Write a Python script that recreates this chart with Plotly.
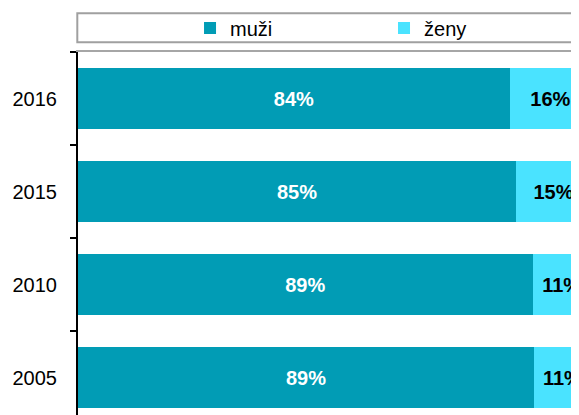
import plotly.graph_objects as go

# ── Data ──────────────────────────────────────────────────────────────────────
YEARS = ["2005", "2010", "2015", "2016"]
MUZI = [88.9, 88.6, 85.4, 84.2]
ZENY = [11.1, 11.4, 14.6, 15.8]

TEAL = "#019cb5"
CYAN = "#4ae3ff"
FONT = "Arial, Liberation Sans, sans-serif"

fig = go.Figure()
fig.add_trace(go.Bar(
    y=YEARS, x=MUZI, name="muži", orientation="h", legend="legend",
    marker_color=TEAL, marker_line_width=0,
    texttemplate="%{x:.0f}%", textposition="inside", insidetextanchor="middle",
    textfont=dict(family=FONT, size=20, color="white", weight="bold"),
    constraintext="none",
))
fig.add_trace(go.Bar(
    y=YEARS, x=ZENY, name="ženy", orientation="h", legend="legend2",
    marker_color=CYAN, marker_line_width=0,
    texttemplate="%{x:.0f}%", textposition="inside", insidetextanchor="middle",
    textfont=dict(family=FONT, size=20, color="black", weight="bold"),
    constraintext="none",
))

# legend frame (runs off the right edge like the source)
fig.add_shape(type="rect", xref="paper", yref="paper",
              x0=-0.0014, x1=1.05, y0=1.027, y1=1.107,
              line=dict(color="#a0a0a0", width=2), fillcolor="white", layer="below")

LEG = dict(orientation="h", xanchor="left", y=1.066, yanchor="middle",
           bgcolor="rgba(0,0,0,0)", font=dict(size=20))

# the source chart is cropped on the right and bottom: ranges stop short
fig.update_layout(
    width=571, height=407,
    margin=dict(l=70, r=0, t=44, b=0),
    paper_bgcolor="white", plot_bgcolor="white",
    font=dict(family=FONT, size=20, color="black"),
    barmode="stack", bargap=0.34,
    showlegend=True,
    legend=dict(LEG, x=0.2236),
    legend2=dict(LEG, x=0.6108),
)
fig.update_xaxes(range=[0, 97.66], side="top", showgrid=False, zeroline=False,
                 showticklabels=False, ticks="", showline=True,
                 linecolor="#a6a6a6", linewidth=2, fixedrange=True)
fig.update_yaxes(categoryorder="array", categoryarray=YEARS, range=[-0.403, 3.5],
                 showgrid=False, zeroline=False, showline=True, linecolor="black",
                 linewidth=2, ticks="outside", ticklen=6, tickwidth=2, tickcolor="black",
                 tickson="boundaries", ticklabelstandoff=15, fixedrange=True)

fig.write_html("out.html", config=dict(displayModeBar=False))
